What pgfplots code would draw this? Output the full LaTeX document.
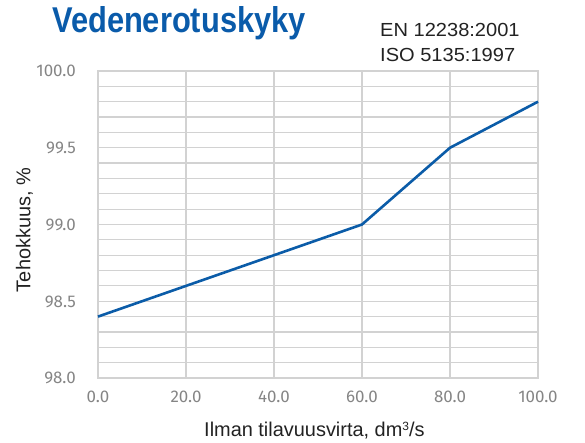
\documentclass[border=0pt]{standalone}
\usepackage{fontspec}
\setmainfont{Liberation Sans}
\newfontfamily\tickfont{Fira Sans}
\usepackage{graphicx}
\usepackage{pgfplots}
\pgfplotsset{compat=1.18}

\definecolor{lineblue}{HTML}{0B5CA8}
\definecolor{titleblue}{HTML}{0A5BAA}
\definecolor{gridgray}{HTML}{D2D2D2}
\definecolor{ticklabel}{HTML}{858585}
\definecolor{labeltext}{HTML}{222222}

\begin{document}
\begin{tikzpicture}[x=1bp,y=1bp]
\path[use as bounding box] (-98,-65) rectangle (487,378);
\begin{axis}[
  at={(0,0)}, anchor=south west,
  scale only axis, width=440bp, height=307bp,
  xmin=0, xmax=100, ymin=98, ymax=100,
  xtick={0,20,40,60,80,100},
  ytick={98,98.5,99,99.5,100},
  minor y tick num=4,
  grid=both,
  major grid style={gridgray, line width=1.2bp},
  minor grid style={gridgray, line width=1.2bp},
  axis line style={gridgray, line width=1.5bp},
  major tick length=0pt, minor tick length=0pt,
  /pgf/number format/assume math mode=true,
  /pgf/number format/.cd, fixed, fixed zerofill, precision=1, /pgfplots/.cd,
  x tick label style={font=\tickfont\fontsize{17}{17}\selectfont, text=ticklabel,
    anchor=base, inner sep=0pt, yshift=-25bp},
  y tick label style={font=\tickfont\fontsize{17}{17}\selectfont, text=ticklabel,
    anchor=base east, inner sep=0pt, xshift=-22bp, yshift=-5.8bp},
  clip=false,
]
\addplot[lineblue, line width=2.6bp, line join=round] coordinates {
  (0,98.4) (20,98.6) (40,98.8) (60,99.0) (80,99.5) (100,99.8)
};
\end{axis}
% title and standards
\node[anchor=base, inner sep=0pt, text=titleblue,
  font=\bfseries\fontsize{36}{36}\selectfont] at (81,345)
  {\scalebox{0.86}[1]{Vedenerotuskyky}};
\node[anchor=base west, inner sep=0pt, text=labeltext,
  font=\fontsize{19}{19}\selectfont] at (282,341) {\scalebox{1.06}[1]{EN 12238:2001}};
\node[anchor=base west, inner sep=0pt, text=labeltext,
  font=\fontsize{19}{19}\selectfont] at (282,316) {\scalebox{1.06}[1]{ISO 5135:1997}};
% axis labels
\node[anchor=base, inner sep=0pt, text=labeltext,
  font=\fontsize{20}{20}\selectfont] at (216.4,-58.7)
  {Ilman tilavuusvirta, dm\raisebox{6.5bp}{\fontsize{12}{12}\selectfont 3}/s};
\node[rotate=90, anchor=center, inner sep=0pt, text=labeltext,
  font=\fontsize{20}{20}\selectfont] at (-73.5,148)
  {Tehokkuus, \%};
\end{tikzpicture}
\end{document}
